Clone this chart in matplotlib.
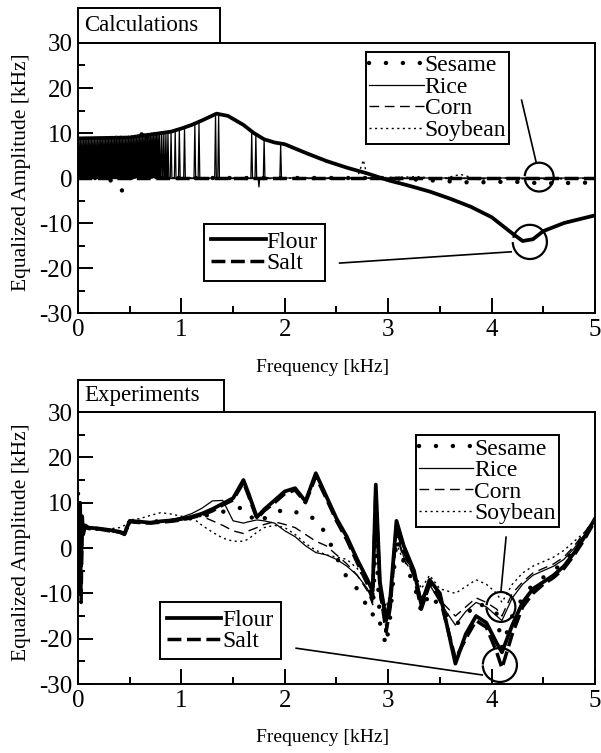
import numpy as np
import matplotlib
matplotlib.use("Agg")
import matplotlib.pyplot as plt
from matplotlib.patches import Arc, Rectangle
from matplotlib.ticker import MultipleLocator

plt.rcParams['font.family'] = ['Liberation Serif', 'DejaVu Serif']
plt.rcParams['axes.unicode_minus'] = False
plt.rcParams['legend.fancybox'] = False
plt.rcParams['legend.framealpha'] = 1
plt.rcParams['legend.edgecolor'] = 'k'

# ---------------- Calculations ----------------
flour_calc_f = [0.0, 0.5, 0.9, 1.0, 1.1, 1.2, 1.34, 1.45, 1.6, 1.7, 1.8, 1.9, 2.0,
                2.2, 2.4, 2.6, 2.8, 3.0, 3.2, 3.4, 3.6, 3.8, 4.0, 4.2, 4.3, 4.4,
                4.5, 4.7, 5.0]
flour_calc_v = [8.8, 9.0, 10.3, 11.0, 11.8, 12.8, 14.3, 13.8, 11.8, 10.0, 8.6, 7.9, 7.5,
                5.6, 3.8, 2.3, 1.0, -0.5, -1.7, -3.0, -4.6, -6.4, -8.7, -12.3, -14.0, -13.6,
                -11.8, -10.0, -8.3]

salt_calc_f = [0.0, 5.0]
salt_calc_v = [0.0, 0.0]

corn_calc_f = [0.0, 5.0]
corn_calc_v = [0.0, 0.0]

soy_calc_f = [0.0, 2.7, 2.76, 2.78, 2.8, 3.3, 3.5, 3.7, 3.9, 4.1, 4.5, 5.0]
soy_calc_v = [0.0, 0.0, 4.0, 2.0, 0.0, 0.3, -0.3, 0.8, -0.5, 0.0, -0.3, 0.0]

sesame_calc_f = [0.0, 0.3, 0.36, 0.42, 0.48, 0.58, 0.62, 0.66, 0.72, 1.0, 2.0, 3.0,
                 3.4, 3.8, 4.2, 4.5, 5.0]
sesame_calc_v = [0.0, 0.0, -2.0, -3.0, 0.0, 0.0, 11.0, 10.5, 0.0, 0.0, 0.0, 0.0,
                 -0.5, -1.0, -0.8, -1.2, -1.0]

# rice: narrow spikes between zero and the envelope
rice_spike_f = [0.01, 0.025, 0.04, 0.055, 0.07, 0.085, 0.10, 0.115, 0.13, 0.145, 0.16,
                0.175, 0.19, 0.205, 0.22, 0.235, 0.25, 0.265, 0.28, 0.295, 0.31, 0.325,
                0.34, 0.355, 0.37, 0.385, 0.40, 0.415, 0.43, 0.445, 0.46, 0.475, 0.49,
                0.505, 0.52, 0.535, 0.55, 0.565, 0.58, 0.595, 0.61, 0.625, 0.64, 0.655,
                0.67, 0.685, 0.70, 0.715, 0.73, 0.745, 0.76, 0.775, 0.79, 0.81, 0.83,
                0.85, 0.87, 0.90, 0.94, 0.98, 1.03, 1.13, 1.17, 1.33, 1.36, 1.68, 1.72,
                1.75, 1.80, 1.96]
rice_spike_v = [8.5, 8.8, 8.6, 8.9, 8.7, 8.8, 8.6, 8.9, 8.8, 8.7, 8.9,
                8.8, 8.6, 8.9, 9.0, 8.8, 8.9, 9.0, 9.1, 9.0, 9.2, 9.0,
                9.1, 9.2, 9.3, 9.2, 9.1, 9.3, 9.2, 9.0, 9.1, 9.2, 9.3,
                9.2, 9.4, 9.3, 9.5, 9.4, 9.6, 9.5, 9.7, 9.6, 9.8, 9.7,
                9.9, 9.8, 9.9, 10.0, 10.0, 10.0, 10.1, 10.0, 10.1, 10.2, 10.2,
                10.2, 10.3, 10.3, 10.6, 10.9, 11.2, 12.0, 12.4, 14.3, 14.2, 10.0, 9.4,
                -2.0, 8.6, 7.6]

# ---------------- Experiments ----------------
f_exp = [0.0, 0.01, 0.02, 0.03, 0.04, 0.05, 0.07, 0.1, 0.2, 0.3, 0.4, 0.45, 0.5, 0.6,
         0.7, 0.8, 0.9, 1.0, 1.1, 1.2, 1.3, 1.4, 1.5, 1.6, 1.65, 1.73, 1.8, 1.9, 2.0,
         2.1, 2.2, 2.3, 2.4, 2.5, 2.6, 2.7, 2.8, 2.85, 2.88, 2.92, 2.98, 3.02, 3.08,
         3.15, 3.25, 3.32, 3.4, 3.5, 3.65, 3.75, 3.85, 3.95, 4.05, 4.1, 4.2, 4.3, 4.4,
         4.5, 4.6, 4.7, 4.8, 4.9, 5.0]
flour_exp = [8, -6, 10, -4, 7, 3, 5, 4.5, 4.3, 4.0, 3.6, 3.2, 6.0, 5.8,
             5.6, 5.9, 6.1, 6.4, 6.9, 7.6, 8.6, 9.8, 11.0, 15.0, 12.0, 6.8, 8.5, 10.5, 12.5,
             13.2, 10.3, 16.5, 11.5, 6.5, 2.5, -2.5, -7.0, -9.5, 14.0, -7.5, -16.0, -11.0, 6.0,
             0.5, -5.0, -12.5, -7.0, -10.0, -25.5, -19.0, -15.0, -16.5, -21.0, -23.0, -17.0, -12.0, -9.0,
             -7.5, -6.0, -4.0, -1.0, 2.5, 6.5]
salt_exp = [6, -10, 9, -12, 5, 4, 4.5, 4.3, 4.2, 3.8, 3.5, 3.0, 5.8, 5.6,
            5.5, 5.7, 5.9, 6.2, 6.7, 7.3, 8.2, 9.5, 10.6, 14.5, 11.5, 6.5, 8.2, 10.0, 12.0,
            12.8, 10.0, 15.8, 11.0, 6.0, 1.8, -3.2, -8.0, -11.0, 12.5, -9.0, -18.5, -13.0, 5.0,
            -0.5, -6.0, -13.5, -8.0, -11.0, -24.5, -20.0, -16.0, -17.5, -23.0, -26.5, -19.0, -13.0, -10.0,
            -8.0, -6.5, -4.5, -1.5, 2.0, 6.0]
sesame_exp = [12, -8, 8, -2, 6, 4, 5, 4.5, 4.2, 4.0, 3.6, 3.3, 5.8, 5.8,
              5.7, 6.0, 6.1, 6.2, 6.6, 7.0, 7.5, 8.0, 8.5, 9.0, 7.5, 5.5, 6.5, 7.8, 8.5,
              8.0, 7.0, 6.5, 3.0, -2.0, -6.5, -9.0, -13.0, -15.0, 3.0, -16.5, -21.5, -15.0, 2.0,
              -3.0, -8.0, -14.0, -10.0, -13.0, -17.0, -15.0, -12.0, -13.0, -14.5, -22.0, -15.0, -11.0, -8.0,
              -6.5, -5.0, -3.0, -0.5, 3.0, 6.0]
rice_exp = [9, -3, 7, 2, 5, 4, 4.6, 4.4, 4.2, 4.0, 3.7, 3.4, 6.0, 5.8,
            5.7, 6.0, 6.3, 6.8, 7.6, 8.8, 10.4, 10.5, 6.0, 5.5, 5.8, 6.2, 6.0, 5.5, 3.8,
            2.5, 0.5, -1.0, -1.5, -2.5, -4.0, -6.0, -9.0, -12.0, 12.0, -10.0, -16.0, -12.0, 4.0,
            -2.0, -5.0, -11.0, -8.0, -12.0, -17.0, -14.0, -12.0, -13.0, -15.0, -16.0, -11.0, -8.0, -6.0,
            -5.0, -4.0, -2.5, 0.0, 3.0, 6.5]
corn_exp = [7, -2, 9, 0, 5, 4.2, 4.5, 4.4, 4.2, 3.9, 3.6, 3.4, 5.9, 5.7,
            5.6, 5.8, 6.0, 6.3, 6.8, 7.0, 6.0, 5.0, 3.8, 3.2, 3.8, 4.5, 5.2, 5.8, 5.2,
            4.5, 3.0, 1.5, 0.5, -1.5, -3.5, -6.0, -9.5, -12.5, 8.0, -11.0, -17.5, -12.5, 3.0,
            -2.5, -6.0, -12.0, -8.0, -11.5, -15.0, -13.0, -11.0, -12.0, -13.5, -15.0, -10.0, -7.5, -5.5,
            -4.5, -3.5, -2.0, 0.5, 3.5, 6.5]
soy_exp = [10, 0, 8, 2, 5, 4.3, 4.6, 4.5, 4.4, 4.2, 4.5, 5.0, 6.2, 6.5,
           7.2, 7.8, 7.5, 7.0, 6.8, 5.0, 3.5, 2.2, 1.5, 1.5, 2.0, 3.5, 4.5, 5.0, 4.5,
           3.0, 1.0, -0.5, -1.5, -2.0, -2.5, -4.5, -7.5, -10.0, 5.0, -9.0, -13.0, -10.0, 1.0,
           -3.0, -5.0, -9.0, -6.0, -9.0, -10.0, -8.5, -7.0, -8.0, -10.0, -12.0, -8.0, -5.5, -4.0,
           -3.0, -2.0, -0.5, 1.5, 3.5, 6.0]

STYLES = {
    'Sesame': dict(color='k', lw=3.2, ls=(0, (0.01, 3.8)), dash_capstyle='round'),
    'Rice': dict(color='k', lw=0.9, ls='-'),
    'Corn': dict(color='k', lw=1.0, ls=(0, (7, 4))),
    'Soybean': dict(color='k', lw=1.0, ls=(0, (1.5, 2.5))),
    'Flour': dict(color='k', lw=2.7, ls='-'),
    'Salt': dict(color='k', lw=2.5, ls=(0, (4, 1.6))),
}


def style_axes(ax, xlab_y):
    ax.set_xlim(0, 5)
    ax.set_ylim(-30, 30)
    ax.xaxis.set_major_locator(MultipleLocator(1))
    ax.xaxis.set_minor_locator(MultipleLocator(0.5))
    ax.yaxis.set_major_locator(MultipleLocator(10))
    ax.yaxis.set_minor_locator(MultipleLocator(5))
    ax.tick_params(which='both', direction='in', top=False, right=False,
                   labelsize=18, width=1.4, pad=4)
    ax.tick_params(which='major', length=11)
    ax.tick_params(which='minor', length=5)
    for s in ax.spines.values():
        s.set_linewidth(1.4)
    ax.set_xlabel('Frequency [kHz]', fontsize=14)
    ax.set_ylabel('Equalized Amplitude [kHz]', fontsize=15.5)
    ax.xaxis.set_label_coords(0.473, xlab_y)
    ax.yaxis.set_label_coords(-0.09, 0.52)


def title_box(ax, text, w, h):
    ax.add_patch(Rectangle((0, 1), w, h, transform=ax.transAxes, fill=False,
                           lw=1.4, ec='k', clip_on=False))
    ax.text(0.012, 1 + h / 2, text, transform=ax.transAxes, fontsize=16.5,
            ha='left', va='center')


def legends(ax, grains_anchor, flour_anchor):
    hs = {}
    for ln in ax.get_lines():
        if ln.get_label() in STYLES:
            hs[ln.get_label()] = ln
    kw = dict(loc='upper left', borderaxespad=0, fontsize=17, handlelength=2.3,
              handletextpad=0.05, labelspacing=0.0, borderpad=0.12)
    names = ['Sesame', 'Rice', 'Corn', 'Soybean']
    leg1 = ax.legend([hs[n] for n in names], names, bbox_to_anchor=grains_anchor, **kw)
    leg1.get_frame().set_linewidth(1.4)
    ax.add_artist(leg1)
    names = ['Flour', 'Salt']
    kw['borderpad'] = 0.3
    leg2 = ax.legend([hs[n] for n in names], names, bbox_to_anchor=flour_anchor, **kw)
    leg2.get_frame().set_linewidth(1.4)


def callout(ax, center, rx, ry, th1, th2, start, end):
    ax.add_patch(Arc(center, 2 * rx, 2 * ry, theta1=th1, theta2=th2, lw=1.6,
                     color='k', clip_on=False))
    ax.plot([start[0], end[0]], [start[1], end[1]], color='k', lw=1.2, clip_on=False)


fig = plt.figure(figsize=(6.01, 7.53), dpi=100)
ax1 = fig.add_axes([0.1298, 0.5843, 0.8602, 0.3586])
ax2 = fig.add_axes([0.1298, 0.0916, 0.8602, 0.3612])

# calculations
rice_x, rice_y = [0.0], [0.0]
for f, v in zip(rice_spike_f, rice_spike_v):
    rice_x += [f - 0.008, f, f + 0.008]
    rice_y += [0.0, v, 0.0]
rice_x.append(5.0)
rice_y.append(0.0)

ax1.plot(rice_x, rice_y, label='Rice', **STYLES['Rice'])
ax1.plot(corn_calc_f, corn_calc_v, label='Corn', **STYLES['Corn'])
ax1.plot(soy_calc_f, soy_calc_v, label='Soybean', **STYLES['Soybean'])
ax1.plot(salt_calc_f, salt_calc_v, label='Salt', **STYLES['Salt'])
ax1.plot(sesame_calc_f, sesame_calc_v, label='Sesame', **STYLES['Sesame'])
ax1.plot(flour_calc_f, flour_calc_v, label='Flour', **STYLES['Flour'])
style_axes(ax1, -0.17)
title_box(ax1, 'Calculations', 0.2755, 0.13)
legends(ax1, (0.558, 0.967), (0.244, 0.330))
callout(ax1, (4.46, 0.2), 0.14, 3.2, -125, 125, (4.29, 17.3), (4.43, 3.6))
callout(ax1, (4.37, -14.2), 0.165, 3.8, -165, 100, (2.53, -18.9), (4.19, -16.4))

# experiments
ax2.plot(f_exp, soy_exp, label='Soybean', **STYLES['Soybean'])
ax2.plot(f_exp, corn_exp, label='Corn', **STYLES['Corn'])
ax2.plot(f_exp, rice_exp, label='Rice', **STYLES['Rice'])
ax2.plot(f_exp, sesame_exp, label='Sesame', **STYLES['Sesame'])
ax2.plot(f_exp, salt_exp, label='Salt', **STYLES['Salt'])
ax2.plot(f_exp, flour_exp, label='Flour', **STYLES['Flour'])
style_axes(ax2, -0.165)
title_box(ax2, 'Experiments', 0.283, 0.118)
legends(ax2, (0.654, 0.915), (0.158, 0.301))
callout(ax2, (4.09, -13.0), 0.14, 3.3, -140, 110, (4.14, 2.4), (4.09, -9.7))
callout(ax2, (4.08, -25.8), 0.165, 3.75, -150, 150, (2.11, -22.1), (3.91, -28.0))

fig.savefig('out.png', dpi=100)
